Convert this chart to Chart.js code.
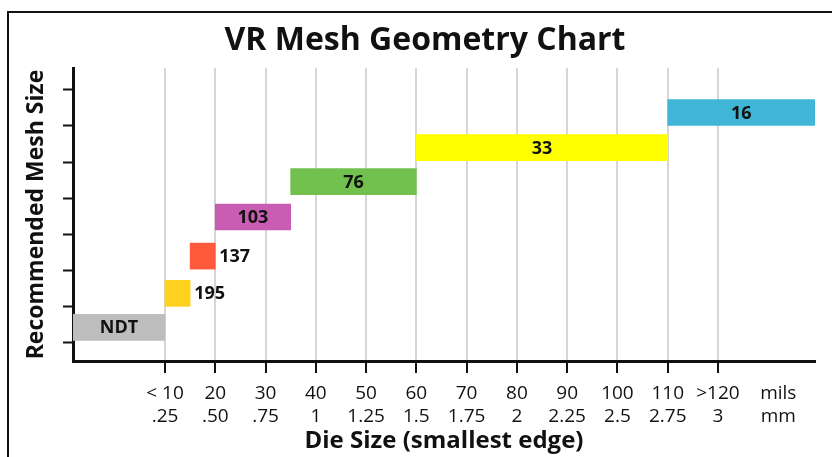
<!DOCTYPE html>
<html>
<head>
<meta charset="utf-8">
<title>VR Mesh Geometry Chart</title>
<script src="https://cdn.jsdelivr.net/npm/chart.js@4.4.1/dist/chart.umd.min.js"></script>
<style>
    html, body { margin: 0; padding: 0; background: #ffffff; }
    #meshChart { display: block; }
</style>
</head>
<body>
<canvas id="meshChart" width="832" height="457"></canvas>
<script>
// Chart data
const meshLabels = ['NDT', '195', '137', '103', '76', '33', '16'];
const rowPos = [0.43, 1.37, 2.4, 3.48, 4.46, 5.4, 6.37];
const xMin = -8.3;
const xMax = 139.3;
const dieStart = [xMin, 10, 15, 20, 35, 60, 110];
const dieEnd = [10, 15, 20, 35, 60, 110, xMax];
const barColors = ['#bdbdbd', '#ffd21f', '#ff5a3c', '#c95cb3', '#72c14f', '#ffff00', '#40b5d6'];

// X tick labels: two rows (mils / mm), last one is the unit column
const xTickValues = [10, 20, 30, 40, 50, 60, 70, 80, 90, 100, 110, 120, 132];
const milsLabels = ['< 10', '20', '30', '40', '50', '60', '70', '80', '90', '100', '110', '>120', 'mils'];
const mmLabels = ['.25', '.50', '.75', '1', '1.25', '1.5', '1.75', '2', '2.25', '2.5', '2.75', '3', 'mm'];
const yTickValues = [0, 1, 2, 3, 4, 5, 6, 7];

const FONT = '"Open Sans", "Noto Sans", sans-serif';
const INK = '#111111';

// Labels drawn on (or just right of) each bar
const barLabelPlugin = {
    id: 'barLabels',
    afterDatasetsDraw(chart) {
        const ctx = chart.ctx;
        const meta = chart.getDatasetMeta(0);
        ctx.save();
        ctx.font = 'bold 18px ' + FONT;
        ctx.fillStyle = INK;
        ctx.textBaseline = 'middle';
        meta.data.forEach((bar, i) => {
            const { x, y, base } = bar.getProps(['x', 'y', 'base'], true);
            const text = meshLabels[i];
            const w = ctx.measureText(text).width;
            if (Math.abs(x - base) < w + 8) {
                ctx.textAlign = 'left';
                ctx.fillText(text, Math.max(x, base) + 4, y + 1);
            } else {
                ctx.textAlign = 'center';
                ctx.fillText(text, (x + base) / 2, y + 1);
            }
        });
        ctx.restore();
    }
};

// White page with the black frame on top / left
const framePlugin = {
    id: 'frame',
    beforeDraw(chart) {
        const ctx = chart.ctx;
        ctx.save();
        ctx.fillStyle = '#ffffff';
        ctx.fillRect(0, 0, chart.width, chart.height);
        ctx.restore();
    },
    afterDraw(chart) {
        const ctx = chart.ctx;
        ctx.save();
        ctx.strokeStyle = INK;
        ctx.lineWidth = 2;
        ctx.beginPath();
        ctx.moveTo(8, chart.height);
        ctx.lineTo(8, 12);
        ctx.lineTo(chart.width, 12);
        ctx.stroke();
        ctx.restore();
    }
};

const ctx = document.getElementById('meshChart').getContext('2d');

new Chart(ctx, {
    type: 'bar',
    data: {
        datasets: [{
            label: 'Recommended Mesh Size',
            data: meshLabels.map((m, i) => ({ x: [dieStart[i], dieEnd[i]], y: rowPos[i] })),
            backgroundColor: barColors,
            borderWidth: 0,
            barThickness: 26
        }]
    },
    options: {
        indexAxis: 'y',
        responsive: false,
        devicePixelRatio: 1,
        animation: false,
        layout: { padding: { left: 35, right: 17, top: 0, bottom: 0 } },
        plugins: {
            legend: { display: false },
            tooltip: { enabled: false },
            title: {
                display: true,
                text: 'VR Mesh Geometry Chart',
                color: INK,
                font: { family: FONT, size: 32, weight: 'bold' },
                padding: { top: 22, bottom: 7.6 }
            }
        },
        scales: {
            x: {
                type: 'linear',
                position: 'bottom',
                min: xMin,
                max: xMax,
                afterBuildTicks: (scale) => {
                    scale.ticks = xTickValues.map(v => ({ value: v }));
                },
                afterFit: (scale) => { scale.height = 96; },
                ticks: {
                    autoSkip: false,
                    maxRotation: 0,
                    padding: 9,
                    color: INK,
                    font: { family: FONT, size: 19 },
                    callback: (value, index) => [milsLabels[index], mmLabels[index]]
                },
                grid: {
                    color: (c) => (c.tick && c.tick.value === 132) ? 'rgba(0,0,0,0)' : '#d6d6d6',
                    tickColor: (c) => (c.tick && c.tick.value === 132) ? 'rgba(0,0,0,0)' : INK,
                    lineWidth: 2,
                    tickWidth: 2,
                    tickLength: 12
                },
                border: { color: INK, width: 3 },
                title: {
                    display: true,
                    text: 'Die Size (smallest edge)',
                    color: INK,
                    font: { family: FONT, size: 24, weight: 'bold' },
                    padding: { top: 0, bottom: 1 }
                }
            },
            y: {
                type: 'linear',
                min: -0.5,
                max: 7.6,
                offset: false,
                afterBuildTicks: (scale) => {
                    scale.ticks = yTickValues.map(v => ({ value: v }));
                },
                afterFit: (scale) => { scale.width = 38; },
                ticks: { display: false },
                grid: {
                    offset: false,
                    drawOnChartArea: false,
                    tickColor: INK,
                    tickWidth: 2,
                    tickLength: 10
                },
                border: { color: INK, width: 3 },
                title: {
                    display: true,
                    text: 'Recommended Mesh Size',
                    color: INK,
                    font: { family: FONT, size: 23, weight: 'bold' },
                    padding: { top: -12, bottom: 0 }
                }
            }
        }
    },
    plugins: [framePlugin, barLabelPlugin]
});
</script>
</body>
</html>
